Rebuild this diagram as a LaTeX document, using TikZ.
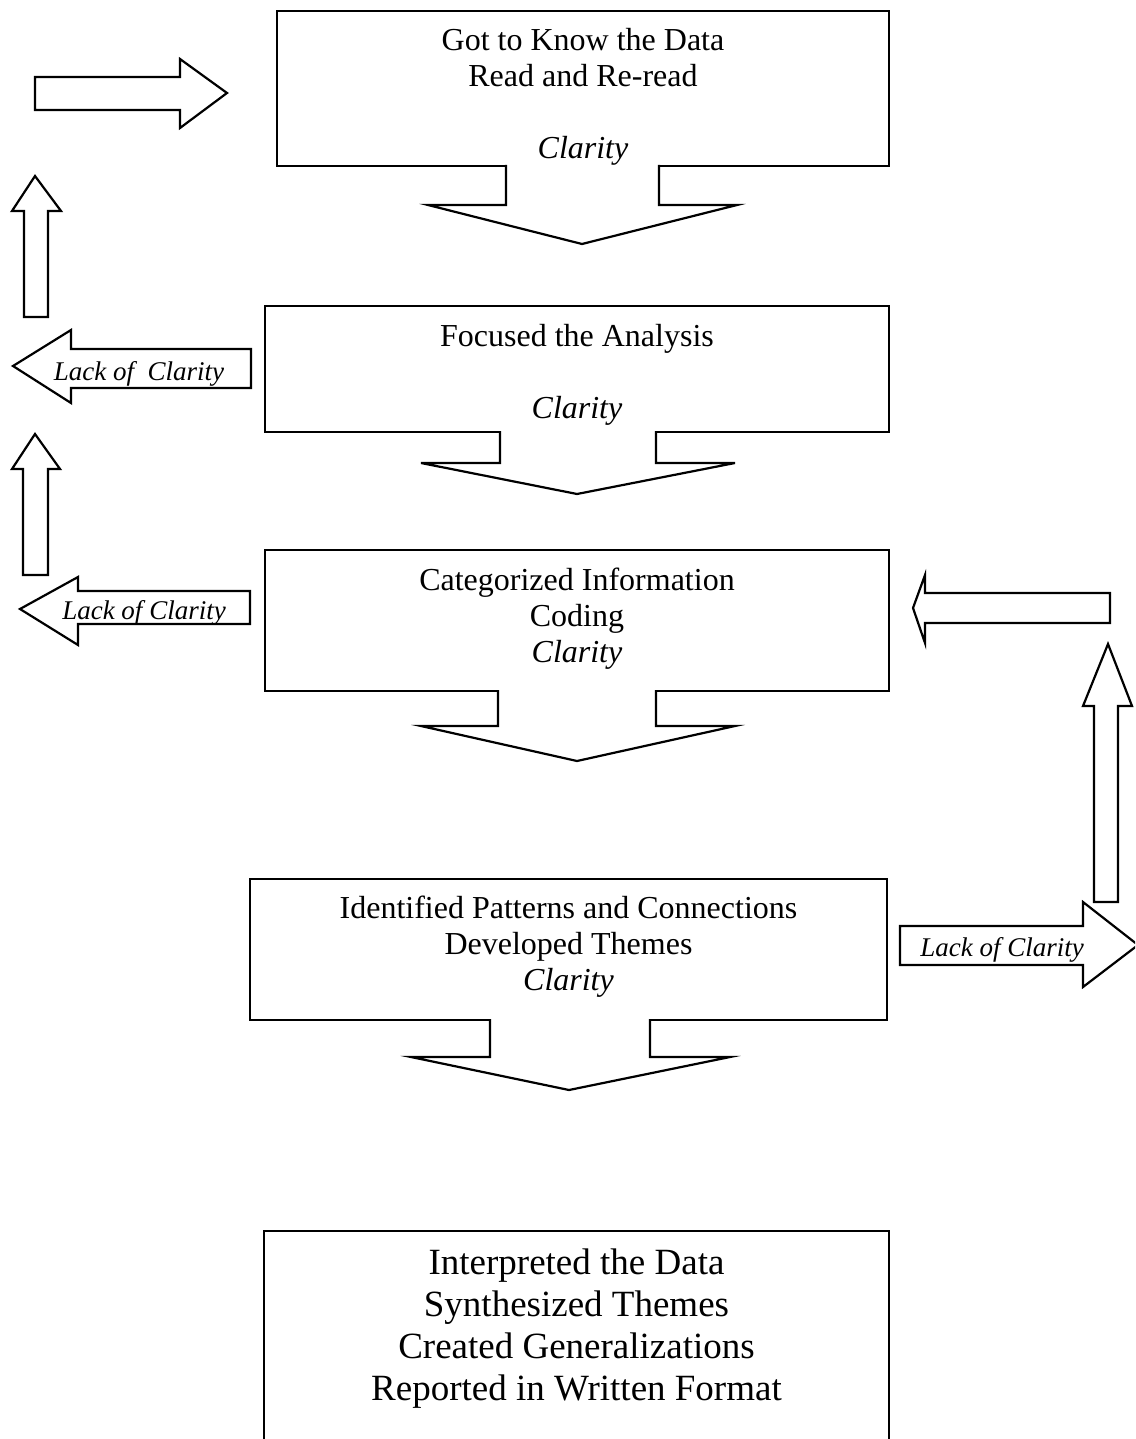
\documentclass[tikz,border=0pt]{standalone}
\usepackage{fontspec}
\setmainfont{Liberation Serif}
\usetikzlibrary{positioning}

\begin{document}
\begin{tikzpicture}[x=0.5pt,y=-0.5pt,
    blockarrow/.style={draw,line width=1.1pt,fill=white,line join=miter},
    steptext/.style={align=center,inner sep=0pt,font=\fontsize{16}{18}\selectfont},
    lacktext/.style={inner sep=0pt,anchor=base,font=\fontsize{13.5}{15}\selectfont\itshape}]

  \clip (0,0) rectangle (1135,1439);

  \begin{scope}[every node/.style={draw,line width=1.1pt,inner sep=0pt}]
    \node[minimum width=306pt,minimum height=77.5pt] (know) at (583,88.5) {};
    \node[minimum width=312pt,minimum height=63pt] (focus) at (577,369) {};
    \node[minimum width=312pt,minimum height=70.5pt] (categ) at (577,620.5) {};
    \node[minimum width=318.5pt,minimum height=70.5pt] (pattern) at (568.5,949.5) {};
    \node[minimum width=312.5pt,minimum height=120pt] (interp) at (576.5,1351) {};
  \end{scope}

  \node[steptext,below=9pt of know.north] (knowtxt)
    {Got to Know the Data\\Read and Re-read\\[18pt]\textit{Clarity}};
  \node[steptext,below=9.5pt of focus.north] (focustxt)
    {Focused the Analysis\\[18pt]\textit{Clarity}};
  \node[steptext,below=9.5pt of categ.north] (categtxt)
    {Categorized Information\\Coding\\\textit{Clarity}};
  \node[steptext,below=9pt of pattern.north] (patterntxt)
    {Identified Patterns and Connections\\Developed Themes\\\textit{Clarity}};
  \node[steptext,font=\fontsize{18.5}{21}\selectfont,below=9.5pt of interp.north] (interptxt)
    {Interpreted the Data\\Synthesized Themes\\Created Generalizations\\Reported in Written Format};

  % arrows down out of the boxes
  \draw[blockarrow] (506,165) -- (506,205) -- (428,205) -- (582,244) -- (737,205) -- (659,205) -- (659,165);
  \draw[blockarrow] (500,431) -- (500,463) -- (421,463) -- (577,494) -- (735,463) -- (656,463) -- (656,431);
  \draw[blockarrow] (498,690) -- (498,726) -- (421,726) -- (577,761) -- (735,726) -- (656,726) -- (656,690);
  \draw[blockarrow] (490,1019) -- (490,1057) -- (411,1057) -- (569,1090) -- (730,1057) -- (650,1057) -- (650,1019);

  % left loop
  \draw[blockarrow] (35,77) -- (180,77) -- (180,59) -- (227,93) -- (180,128) -- (180,110) -- (35,110) -- cycle;
  \draw[blockarrow] (24,317) -- (24,211) -- (12,211) -- (35,176) -- (61,211) -- (48,211) -- (48,317) -- cycle;
  \draw[blockarrow] (251,349) -- (71,349) -- (71,330) -- (13,366) -- (71,403) -- (71,388) -- (251,388) -- cycle;
  \draw[blockarrow] (23,575) -- (23,469) -- (12,469) -- (35,434) -- (60,469) -- (48,469) -- (48,575) -- cycle;
  \draw[blockarrow] (250,591) -- (78,591) -- (78,577) -- (20,609) -- (78,645) -- (78,624) -- (250,624) -- cycle;

  % right loop
  \draw[blockarrow] (900,926) -- (1083,926) -- (1083,902) -- (1138,945) -- (1083,987) -- (1083,965) -- (900,965) -- cycle;
  \draw[blockarrow] (1094,902) -- (1094,706) -- (1083,706) -- (1108,644) -- (1132,706) -- (1118,706) -- (1118,902) -- cycle;
  \draw[blockarrow] (1110,593) -- (925,593) -- (925,575) -- (913,608) -- (925,643) -- (925,623) -- (1110,623) -- cycle;

  \node[lacktext] (lack1) at (139,380) {Lack of\ \ Clarity};
  \node[lacktext] (lack2) at (144,619) {Lack of Clarity};
  \node[lacktext] (lack3) at (1002,956) {Lack of Clarity};
\end{tikzpicture}
\end{document}
